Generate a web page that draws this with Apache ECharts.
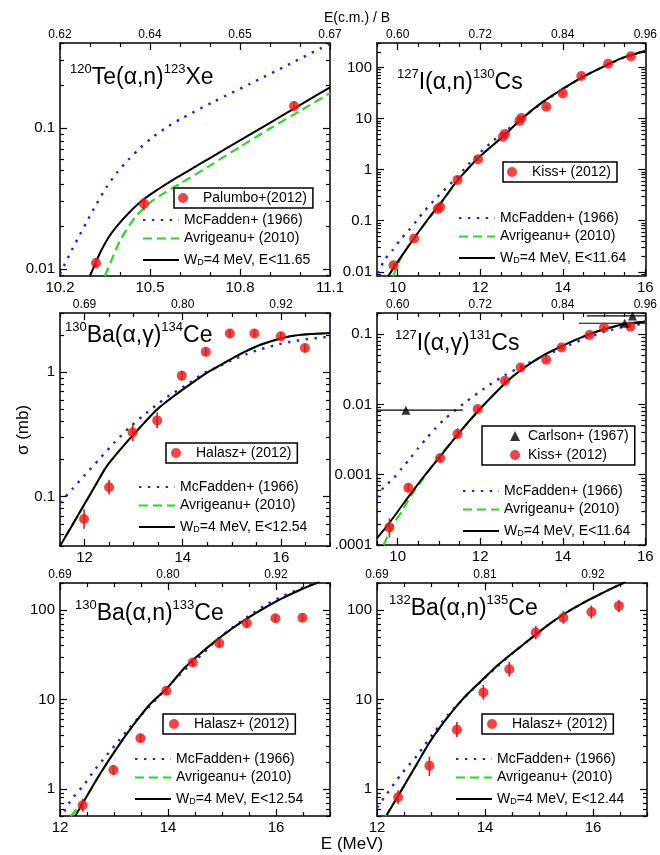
<!DOCTYPE html>
<html>
<head>
<meta charset="utf-8">
<script src="https://cdn.jsdelivr.net/npm/echarts@6/dist/echarts.min.js"></script>
<style>
  html, body { margin: 0; padding: 0; background: #fff; }
  #chart { width: 660px; height: 855px; }
</style>
</head>
<body>
<div id="chart"></div>
<script>
const FONT = '"Liberation Sans", Arial, sans-serif';

// ---- 120Te(a,n)123Xe
const teExp = [[10.32, 0.011], [10.48, 0.029], [10.98, 0.143]];
const teErr = [[0.0101, 0.012], [0.026, 0.032], [0.133, 0.154]];
const teMcF = [[10.2, 0.0092], [10.233, 0.0128], [10.26, 0.0165], [10.289, 0.0215], [10.322, 0.029], [10.355, 0.038], [10.389, 0.048], [10.43, 0.06], [10.467, 0.072], [10.506, 0.085], [10.55, 0.099], [10.6, 0.115], [10.711, 0.153], [10.833, 0.205], [10.967, 0.285], [11.067, 0.365], [11.1, 0.395]];
const teAvr = [[10.35, 0.0089], [10.4, 0.0158], [10.45, 0.0232], [10.5, 0.0295], [10.55, 0.0348], [10.6, 0.0402], [10.7, 0.054], [10.8, 0.0735], [10.9, 0.099], [11.0, 0.132], [11.1, 0.176]];
const teWd = [[10.3, 0.0089], [10.333, 0.0129], [10.36, 0.0165], [10.389, 0.02], [10.43, 0.025], [10.478, 0.031], [10.53, 0.037], [10.578, 0.043], [10.65, 0.0529], [10.7, 0.0611], [10.8, 0.0815], [10.9, 0.1087], [10.983, 0.138], [11.05, 0.168], [11.1, 0.194]];

// ---- 127I(a,n)130Cs
const ianExp = [[9.9, 0.0135], [10.4, 0.045], [10.97, 0.17], [11.03, 0.185], [11.45, 0.63], [11.95, 1.6], [12.55, 4.4], [12.6, 5.0], [12.95, 9.0], [13.0, 10.2], [13.6, 17], [14.0, 31], [14.45, 68], [15.1, 118], [15.65, 165]];
const ianErr = [[0.0122, 0.0148], [0.041, 0.049], [0.155, 0.186], [0.168, 0.202], [0.58, 0.68], [1.48, 1.72], [4.05, 4.75], [4.6, 5.4], [8.3, 9.7], [9.4, 11], [15.6, 18.4], [28.5, 33.5], [63, 73], [109, 127], [152, 178]];
const ianMcF = [[9.5, 0.0095], [9.56, 0.0111], [9.69, 0.0174], [9.89, 0.0275], [10.07, 0.043], [10.27, 0.065], [10.46, 0.1], [10.65, 0.155], [10.95, 0.286], [11.4, 0.66], [11.84, 1.63], [12.32, 3.7], [12.82, 7.6], [13.3, 15.4], [13.99, 37], [14.5, 66], [14.95, 100], [15.45, 152], [16, 212]];
const ianAvr = [[9.89, 0.0082], [10.09, 0.0195], [10.37, 0.042], [10.6, 0.075], [10.77, 0.114], [11.09, 0.245], [11.45, 0.61], [11.97, 1.75], [12.53, 4.3], [13.0, 9.8], [13.5, 20.7], [13.99, 37.7], [14.47, 64], [14.95, 100], [15.43, 152], [15.95, 205], [16, 211]];
const ianWd = [[9.77, 0.0082], [9.97, 0.0145], [10.2, 0.027], [10.41, 0.047], [10.77, 0.117], [11.09, 0.25], [11.45, 0.615], [11.97, 1.75], [12.53, 4.3], [13.0, 9.8], [13.5, 20.7], [13.99, 37.7], [14.47, 64], [14.95, 100], [15.43, 152], [15.95, 205], [16, 212]];

// ---- 130Ba(a,g)134Ce
const bagExp = [[11.99, 0.066], [12.5, 0.119], [12.98, 0.328], [13.48, 0.41], [13.98, 0.94], [14.47, 1.46], [14.96, 2.05], [15.46, 2.05], [16.0, 1.95], [16.49, 1.57]];
const bagErr = [[0.055, 0.079], [0.104, 0.136], [0.28, 0.385], [0.355, 0.475], [0.86, 1.03], [1.35, 1.58], [1.9, 2.22], [1.9, 2.22], [1.81, 2.1], [1.45, 1.7]];
const bagMcF = [[11.5, 0.089], [11.75, 0.115], [12.0, 0.148], [12.3, 0.2], [12.6, 0.27], [12.9, 0.355], [13.2, 0.45], [13.5, 0.56], [13.8, 0.68], [14.1, 0.8], [14.4, 0.97], [14.7, 1.1], [15.0, 1.25], [15.3, 1.4], [15.6, 1.54], [15.9, 1.66], [16.2, 1.76], [16.5, 1.84], [16.8, 1.9], [17.0, 1.94]];
const bagAvr = [[11.6, 0.047], [11.74, 0.058], [11.97, 0.083], [12.21, 0.121], [12.45, 0.175], [12.79, 0.255], [13.13, 0.36], [13.47, 0.5], [13.81, 0.64], [14.15, 0.8], [14.49, 0.99], [14.83, 1.18], [15.17, 1.4], [15.51, 1.62], [15.85, 1.8], [16.19, 1.95], [16.6, 2.03], [17, 2.07]];
const bagWd = [[11.5, 0.04], [11.74, 0.058], [11.97, 0.083], [12.21, 0.121], [12.45, 0.175], [12.79, 0.255], [13.13, 0.36], [13.47, 0.5], [13.81, 0.64], [14.15, 0.8], [14.49, 0.99], [14.83, 1.18], [15.17, 1.4], [15.51, 1.62], [15.85, 1.8], [16.19, 1.95], [16.6, 2.03], [17, 2.07]];

// ---- 127I(a,g)131Cs
const iagExp = [[9.8, 0.000178], [10.26, 0.00065], [11.03, 0.00173], [11.45, 0.0038], [11.94, 0.0086], [12.6, 0.0217], [12.98, 0.0336], [13.6, 0.0432], [13.97, 0.0646], [14.65, 0.097], [15.0, 0.124], [15.64, 0.128]];
const iagErr = [[0.000128, 0.00024], [0.00057, 0.00075], [0.0015, 0.002], [0.0033, 0.0046], [0.0079, 0.0094], [0.0202, 0.0233], [0.0313, 0.036], [0.0405, 0.046], [0.0605, 0.069], [0.091, 0.103], [0.116, 0.132], [0.12, 0.136]];
const carlExp = [[10.2, 0.0083], [15.5, 0.143], [15.69, 0.182]];
const carlErr = [[0.0078, 0.0088], [0.137, 0.149], [0.175, 0.19]];
const carlSpan = [[9.5, 11.58], [14.39, 16], [14.58, 16]];
const iagMcF = [[9.5, 0.00048], [9.66, 0.00066], [9.9, 0.00089], [10.1, 0.00123], [10.3, 0.0017], [10.5, 0.0024], [10.7, 0.0033], [10.9, 0.0045], [11.14, 0.0062], [11.62, 0.0105], [12.1, 0.0169], [12.58, 0.0257], [13.07, 0.0363], [13.55, 0.049], [14.0, 0.064], [14.5, 0.085], [15.0, 0.108], [15.5, 0.128], [16, 0.142]];
const iagAvr = [[9.66, 0.0001], [9.9, 0.0002], [10.1, 0.0003], [10.3, 0.00048], [10.6, 0.00085], [11.0, 0.0018], [11.3, 0.0029], [11.5, 0.004], [11.9, 0.0075], [12.3, 0.0133], [12.71, 0.0229], [13.11, 0.0347], [13.51, 0.0492], [13.91, 0.0646], [14.31, 0.083], [14.71, 0.103], [15.11, 0.122], [15.51, 0.139], [15.95, 0.15], [16, 0.151]];
const iagWd = [[9.5, 0.000125], [9.74, 0.000185], [10.02, 0.00031], [10.3, 0.00052], [10.7, 0.00105], [11.1, 0.00205], [11.5, 0.004], [11.9, 0.0075], [12.3, 0.0133], [12.71, 0.0229], [13.11, 0.0347], [13.51, 0.0492], [13.91, 0.0646], [14.31, 0.083], [14.71, 0.103], [15.11, 0.122], [15.51, 0.139], [15.95, 0.15], [16, 0.151]];

// ---- 130Ba(a,n)133Ce
const banExp = [[12.42, 0.66], [12.99, 1.63], [13.49, 3.7], [13.97, 12.5], [14.46, 25.9], [14.95, 42.5], [15.46, 71], [15.99, 80.7], [16.49, 82]];
const banErr = [[0.56, 0.78], [1.42, 1.86], [3.3, 4.15], [11.3, 13.8], [23.4, 28.6], [38.5, 47], [64, 78.5], [73, 89], [74, 91]];
const banMcF = [[12.0, 0.46], [12.2, 0.75], [12.43, 1.09], [12.63, 1.6], [12.83, 2.25], [13.04, 3.2], [13.24, 4.48], [13.47, 6.4], [13.71, 9.0], [13.94, 12.8], [14.16, 17.5], [14.4, 24], [14.62, 31.5], [14.9, 46], [15.2, 64], [15.5, 86], [15.8, 113], [16.1, 140], [16.4, 168], [16.7, 197], [17.0, 228]];
const banAvr = [[12.2, 0.5], [12.28, 0.57], [12.43, 0.72], [12.74, 1.47], [13.05, 2.85], [13.36, 5.2], [13.67, 8.9], [13.99, 13.5], [14.3, 22.3], [14.6, 32.6], [14.9, 46], [15.2, 62.8], [15.52, 84.3], [15.83, 109], [16.14, 137], [16.44, 167], [16.75, 200], [17, 230]];
const banWd = [[12.28, 0.5], [12.43, 0.71], [12.74, 1.47], [13.05, 2.85], [13.36, 5.2], [13.67, 8.9], [13.99, 13.5], [14.3, 22.3], [14.6, 32.6], [14.9, 46], [15.2, 62.8], [15.52, 84.3], [15.83, 109], [16.14, 137], [16.44, 167], [16.75, 200], [17, 230]];

// ---- 132Ba(a,n)135Ce
const bnnExp = [[12.39, 0.81], [12.97, 1.82], [13.48, 4.6], [13.97, 12], [14.45, 21.8], [14.94, 55.9], [15.45, 82], [15.97, 95], [16.48, 111]];
const bnnErr = [[0.68, 0.97], [1.4, 2.3], [3.8, 5.6], [10, 14.5], [18, 26.5], [47, 66], [70, 97], [80, 112], [95, 130]];
const bnnMcF = [[12.0, 0.62], [12.18, 0.88], [12.45, 1.47], [12.75, 2.4], [13.03, 4.1], [13.32, 6.8], [13.63, 10.6], [13.93, 16], [14.24, 23.7], [14.52, 33.4], [14.83, 47], [15.14, 66], [15.45, 89], [15.76, 115], [16.07, 144], [16.38, 178], [16.7, 222]];
const bnnAvr = [[12.16, 0.5], [12.37, 0.79], [12.67, 1.62], [12.98, 3.37], [13.29, 6.14], [13.6, 10.3], [13.91, 15.7], [14.22, 23.7], [14.52, 33.4], [14.83, 47], [15.14, 66], [15.45, 89], [15.76, 115], [16.07, 144], [16.38, 178], [16.56, 200], [16.7, 222]];
const bnnWd = [[12.18, 0.51], [12.37, 0.8], [12.67, 1.62], [12.98, 3.37], [13.29, 6.14], [13.6, 10.3], [13.91, 15.7], [14.22, 23.7], [14.52, 33.4], [14.83, 47], [15.14, 66], [15.45, 89], [15.76, 115], [16.07, 144], [16.38, 178], [16.56, 200], [16.7, 222]];

// ---- tick values and labels
const xTicksTe = [10.2, 10.5, 10.8, 11.1];
const topLabelsTe = ['0.62', '0.64', '0.65', '0.67'];
const xTicksI = [10, 12, 14, 16];
const topLabelsI = ['0.60', '0.72', '0.84', '0.96'];
const xTicksBa = [12, 14, 16];
const topLabelsBa130 = ['0.69', '0.80', '0.92'];
const topLabelsBa132 = ['0.69', '0.81', '0.92'];

const NAME_MCF = 'McFadden+ (1966)';
const NAME_AVR = 'Avrigeanu+ (2010)';
const RED = '#f01414';

function minorX(a, b, step, majors) {
  const out = [];
  for (let v = a; v <= b + 1e-9; v += step) {
    const r = Math.round(v * 100) / 100;
    if (!majors.some(m => Math.abs(m - r) < 1e-6)) out.push(r);
  }
  return out;
}
function decades(lo, hi) {
  const out = [];
  for (let e = -5; e <= 3; e++) { const v = Math.pow(10, e); if (v >= lo * 0.999 && v <= hi * 1.001) out.push(+v.toPrecision(1)); }
  return out;
}
function minorLog(lo, hi) {
  const out = [];
  for (let e = -5; e <= 3; e++) for (let k = 2; k <= 9; k++) {
    const v = +(k * Math.pow(10, e)).toPrecision(2);
    if (v >= lo && v <= hi) out.push(v);
  }
  return out;
}

const panels = [
  { grid: [60, 43, 270, 233], x: [10.2, 11.1], y: [0.0089, 0.4], xt: xTicksTe, top: topLabelsTe, step: 0.1,
    expName: 'Palumbo+(2012)', exp: teExp, err: teErr, mcf: teMcF, avr: teAvr, wd: teWd, wdName: 'WD=4 MeV, E<11.65',
    box: [174, 188, 4], leg: [142, 213],
    title: ['120', 'Te(α,n)', '123', 'Xe'], tpos: [70, 63] },
  { grid: [377, 43, 270, 233], x: [9.5, 16], y: [0.0083, 300], xt: xTicksI, top: topLabelsI, step: 0.5,
    expName: 'Kiss+ (2012)', exp: ianExp, err: ianErr, mcf: ianMcF, avr: ianAvr, wd: ianWd, wdName: 'WD=4 MeV, E<11.64',
    box: [503, 162, 4], leg: [458, 211],
    title: ['127', 'I(α,n)', '130', 'Cs'], tpos: [397, 68] },
  { grid: [60, 313, 270, 233], x: [11.5, 17], y: [0.04, 3], xt: xTicksBa, top: topLabelsBa130, step: 0.5,
    expName: 'Halasz+ (2012)', exp: bagExp, err: bagErr, mcf: bagMcF, avr: bagAvr, wd: bagWd, wdName: 'WD=4 MeV, E<12.54',
    box: [166, 443, 5], leg: [138, 480],
    title: ['130', 'Ba(α,γ)', '134', 'Ce'], tpos: [65, 321] },
  { grid: [377, 313, 270, 232], x: [9.5, 16], y: [0.0001, 0.2], xt: xTicksI, top: topLabelsI, step: 0.5,
    expName: 'Kiss+ (2012)', exp: iagExp, err: iagErr, mcf: iagMcF, avr: iagAvr, wd: iagWd, wdName: 'WD=4 MeV, E<11.64',
    box: [482, 426, 28], leg: [462, 484], carlson: true,
    title: ['127', 'I(α,γ)', '131', 'Cs'], tpos: [395, 329] },
  { grid: [60, 583, 270, 233], x: [12, 17], y: [0.5, 200], xt: xTicksBa, top: topLabelsBa130, step: 0.5,
    expName: 'Halasz+ (2012)', exp: banExp, err: banErr, mcf: banMcF, avr: banAvr, wd: banWd, wdName: 'WD=4 MeV, E<12.54',
    box: [163, 714, 6], leg: [134, 752],
    title: ['130', 'Ba(α,n)', '133', 'Ce'], tpos: [75, 599] },
  { grid: [377, 583, 270, 233], x: [12, 17], y: [0.5, 200], xt: xTicksBa, top: topLabelsBa132, step: 0.5,
    expName: 'Halasz+ (2012)', exp: bnnExp, err: bnnErr, mcf: bnnMcF, avr: bnnAvr, wd: bnnWd, wdName: 'WD=4 MeV, E<12.44',
    box: [482, 714, 5], leg: [455, 752],
    title: ['132', 'Ba(α,n)', '135', 'Ce'], tpos: [389, 594] }
];

const grids = [], xAxes = [], yAxes = [], series = [], legends = [], graphics = [];
const lineCol = { color: '#000', width: 1.5 };
const tickCol = { color: '#000', width: 1.2 };

panels.forEach((p, i) => {
  grids.push({ left: p.grid[0], top: p.grid[1], width: p.grid[2], height: p.grid[3], containLabel: false });
  const xm = minorX(p.x[0], p.x[1], p.step, p.xt);
  const xb = { type: 'value', gridIndex: i, min: p.x[0], max: p.x[1], splitLine: { show: false } };
  xAxes.push(
    Object.assign({}, xb, { position: 'bottom', axisLine: { show: true, onZero: false, lineStyle: lineCol },
      axisTick: { show: true, inside: true, length: 7, customValues: p.xt, lineStyle: tickCol },
      axisLabel: { show: true, customValues: p.xt, fontSize: 15, fontFamily: FONT, color: '#000', margin: 4 } }),
    Object.assign({}, xb, { position: 'bottom', axisLine: { show: false, onZero: false },
      axisTick: { show: true, inside: true, length: 4, customValues: xm, lineStyle: tickCol }, axisLabel: { show: false } }),
    Object.assign({}, xb, { position: 'top', axisLine: { show: true, onZero: false, lineStyle: lineCol },
      axisTick: { show: true, inside: true, length: 7, customValues: p.xt, lineStyle: tickCol },
      axisLabel: { show: true, customValues: p.xt, fontSize: 12, fontFamily: FONT, color: '#000', margin: 2,
        formatter: v => { const k = p.xt.findIndex(t => Math.abs(t - v) < 1e-6); return k >= 0 ? p.top[k] : ''; } } }),
    Object.assign({}, xb, { position: 'top', axisLine: { show: false, onZero: false },
      axisTick: { show: true, inside: true, length: 4, customValues: xm, lineStyle: tickCol }, axisLabel: { show: false } })
  );
  const yt = decades(p.y[0], p.y[1]);
  const ym = minorLog(p.y[0], p.y[1]);
  const yb = { type: 'log', logBase: 10, gridIndex: i, min: p.y[0], max: p.y[1], splitLine: { show: false } };
  yAxes.push(
    Object.assign({}, yb, { position: 'left', axisLine: { show: true, onZero: false, lineStyle: lineCol },
      axisTick: { show: true, inside: true, length: 7, customValues: yt, lineStyle: tickCol },
      axisLabel: { show: true, customValues: yt, fontSize: 15, fontFamily: FONT, color: '#000', margin: 5,
        formatter: v => (Math.abs(v - 0.0001) < 1e-9 ? '.0001' : String(+(+v).toPrecision(1))) } }),
    Object.assign({}, yb, { position: 'left', axisLine: { show: false, onZero: false },
      axisTick: { show: true, inside: true, length: 4, customValues: ym, lineStyle: tickCol }, axisLabel: { show: false } }),
    Object.assign({}, yb, { position: 'right', axisLine: { show: true, onZero: false, lineStyle: lineCol },
      axisTick: { show: true, inside: true, length: 7, customValues: yt, lineStyle: tickCol }, axisLabel: { show: false } }),
    Object.assign({}, yb, { position: 'right', axisLine: { show: false, onZero: false },
      axisTick: { show: true, inside: true, length: 4, customValues: ym, lineStyle: tickCol }, axisLabel: { show: false } })
  );

  const ax = { xAxisIndex: 4 * i, yAxisIndex: 4 * i };
  series.push(
    Object.assign({ type: 'line', name: NAME_MCF, data: p.mcf, symbol: 'none', smooth: 0.25, z: 2,
      lineStyle: { color: '#1c1cf5', width: 2.4, type: [2.4, 6.5] }, itemStyle: { color: '#1c1cf5' } }, ax),
    Object.assign({ type: 'line', name: NAME_AVR, data: p.avr, symbol: 'none', smooth: 0.25, z: 3,
      lineStyle: { color: '#22dd22', width: 2.2, type: [9, 5] }, itemStyle: { color: '#22dd22' } }, ax),
    Object.assign({ type: 'line', name: p.wdName, data: p.wd, symbol: 'none', smooth: 0.25, z: 4,
      lineStyle: { color: '#000', width: 2 }, itemStyle: { color: '#000' } }, ax),
    Object.assign({ type: 'custom', silent: true, z: 5, data: p.exp.map((d, k) => [d[0], p.err[k][0], p.err[k][1]]),
      encode: { x: 0, y: [1, 2] },
      renderItem: (params, api) => {
        const a = api.coord([api.value(0), api.value(1)]);
        const b = api.coord([api.value(0), api.value(2)]);
        return { type: 'line', shape: { x1: a[0], y1: a[1], x2: b[0], y2: b[1] }, style: { stroke: RED, lineWidth: 1.6 } };
      } }, ax),
    Object.assign({ type: 'scatter', name: p.expName, data: p.exp, symbol: 'circle', symbolSize: 10, z: 6,
      itemStyle: { color: RED } }, ax)
  );
  if (p.carlson) {
    series.push(
      Object.assign({ type: 'custom', silent: true, z: 5, data: carlExp.map((d, k) => [carlSpan[k][0], carlSpan[k][1], d[1]]),
        encode: { x: [0, 1], y: 2 },
        renderItem: (params, api) => {
          const a = api.coord([api.value(0), api.value(2)]);
          const b = api.coord([api.value(1), api.value(2)]);
          return { type: 'line', shape: { x1: a[0], y1: a[1], x2: b[0], y2: b[1] }, style: { stroke: '#000', lineWidth: 1.2 } };
        } }, ax),
      Object.assign({ type: 'scatter', name: 'Carlson+ (1967)', data: carlExp, symbol: 'triangle', symbolSize: 9, z: 6,
        itemStyle: { color: '#000' } }, ax)
    );
  }

  const txt = { fontFamily: FONT, fontSize: 14, color: '#000', lineHeight: 14,
    rich: { n: { fontFamily: FONT, fontSize: 14, color: '#000', lineHeight: 14, verticalAlign: 'top' },
            s: { fontFamily: FONT, fontSize: 9, color: '#000', lineHeight: 9, verticalAlign: 'bottom', padding: [8, 0, 0, 0] } } };
  legends.push({
    data: p.carlson ? ['Carlson+ (1967)', p.expName] : [p.expName],
    left: p.box[0], top: p.box[1], orient: 'vertical', selectedMode: false,
    itemWidth: p.carlson ? 10 : 30, itemHeight: 10, itemGap: 5,
    padding: [3, 6, 3, p.box[2]], borderColor: '#000', borderWidth: 1.5, borderRadius: 0,
    textStyle: { fontFamily: FONT, fontSize: 14, color: '#000', lineHeight: 14, padding: [0, 0, 0, p.carlson ? 3 : 0] }
  });
  legends.push({
    data: [NAME_MCF, NAME_AVR, p.wdName],
    left: p.leg[0], top: p.leg[1], orient: 'vertical', selectedMode: false,
    itemWidth: 36, itemHeight: 14, itemGap: 4.5, padding: 0,
    itemStyle: { opacity: 0 },
    formatter: n => n.indexOf('WD') === 0 ? '{n|W}{s|D}{n|' + n.slice(2) + '}' : n,
    textStyle: txt
  });

  graphics.push({
    type: 'text', x: p.tpos[0], y: p.tpos[1], z: 10,
    style: {
      text: '{s|' + p.title[0] + '}{m|' + p.title[1] + '}{s|' + p.title[2] + '}{m|' + p.title[3] + '}',
      rich: {
        s: { fontFamily: FONT, fontSize: 13, lineHeight: 13, verticalAlign: 'top', fill: '#000' },
        m: { fontFamily: FONT, fontSize: 23, lineHeight: 26, verticalAlign: 'bottom', fill: '#000' }
      }
    }
  });
});

graphics.push(
  { type: 'text', x: 23, y: 430, rotation: Math.PI / 2,
    style: { text: 'σ (mb)', font: '17px ' + FONT, fill: '#000', align: 'center', verticalAlign: 'middle' } },
  { type: 'text', x: 352, y: 844,
    style: { text: 'E (MeV)', font: '17px ' + FONT, fill: '#000', align: 'center', verticalAlign: 'middle' } },
  { type: 'text', x: 357, y: 18,
    style: { text: 'E(c.m.) / B', font: '14px ' + FONT, fill: '#000', align: 'center', verticalAlign: 'middle' } }
);

const chart = echarts.init(document.getElementById('chart'), null, { renderer: 'canvas' });
chart.setOption({
  animation: false,
  backgroundColor: '#fff',
  grid: grids,
  xAxis: xAxes,
  yAxis: yAxes,
  legend: legends,
  series: series,
  graphic: graphics
});
</script>
</body>
</html>
